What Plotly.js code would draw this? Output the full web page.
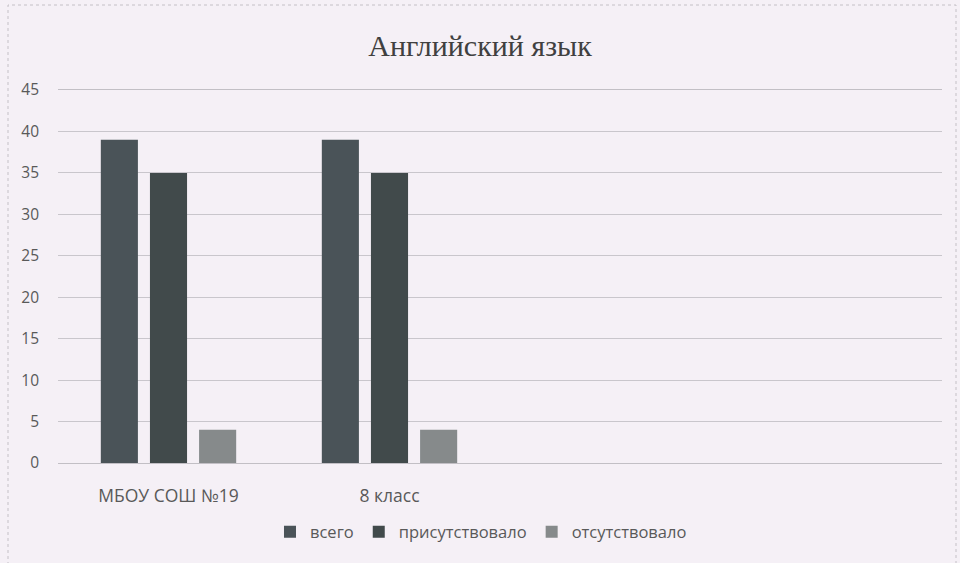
<!DOCTYPE html>
<html>
<head>
<meta charset="utf-8">
<script src="https://cdn.plot.ly/plotly-3.0.1.min.js"></script>
<style>html,body{margin:0;padding:0;background:#f5f0f6;}</style>
</head>
<body>
<div id="chart" style="width:960px;height:563px;"></div>
<script>
const categories = ["МБОУ СОШ №19", "8 класс"];
const seriesNames = ["всего", "присутствовало", "отсутствовало"];
const vsego = [39, 39];
const prisutstvovalo = [35, 35];
const otsutstvovalo = [4, 4];
const yTicks = [0, 5, 10, 15, 20, 25, 30, 35, 40, 45];

const colors = ["#4a5358", "#414a4b", "#868a8b"];
const values = [vsego, prisutstvovalo, otsutstvovalo];

const traces = values.map((v, i) => ({
  type: "bar",
  name: seriesNames[i],
  x: categories,
  y: v,
  marker: {color: colors[i]},
  hoverinfo: "y"
}));

const sans = "Open Sans, Noto Sans, sans-serif";

const layout = {
  width: 960,
  height: 563,
  paper_bgcolor: "#f5f0f6",
  plot_bgcolor: "#f5f0f6",
  margin: {l: 58, r: 18, t: 90, b: 100},
  title: {
    text: "Английский язык",
    x: 0.5, xanchor: "center",
    y: 1 - 45/563, yanchor: "middle",
    font: {family: "Liberation Serif, Times New Roman, serif", size: 30, color: "#404040"}
  },
  barmode: "group",
  bargap: 0.333,
  bargroupgap: 0.245,
  xaxis: {
    type: "category",
    range: [-0.5, 3.5],
    showgrid: false,
    zeroline: false,
    showline: true,
    mirror: true,
    linecolor: "#c2bfc5",
    linewidth: 1,
    ticks: "",
    ticklabelstandoff: 17,
    tickfont: {family: sans, size: 17.5, color: "#595959"}
  },
  yaxis: {
    range: [0, 45],
    tickvals: yTicks,
    showgrid: true,
    gridcolor: "#c9c6cc",
    gridwidth: 1,
    zeroline: true,
    zerolinecolor: "#c2bfc5",
    zerolinewidth: 1,
    showline: false,
    ticks: "",
    ticklabelstandoff: 18,
    tickfont: {family: sans, size: 15.5, color: "#595959"}
  },
  legend: {
    orientation: "h",
    x: 0.4785, xanchor: "center",
    y: (463 - 532) / 373, yanchor: "middle",
    font: {family: sans, size: 16.5, color: "#595959"},
    itemwidth: 30,
    bgcolor: "rgba(0,0,0,0)"
  },
  shapes: [{
    type: "rect", xref: "paper", yref: "paper",
    x0: (8 - 58) / 884, x1: (956 - 58) / 884,
    y0: (463 - 570) / 373, y1: (463 - 5) / 373,
    line: {color: "#c4c0c6", width: 1, dash: "dot"},
    fillcolor: "rgba(0,0,0,0)",
    layer: "below"
  }],
  showlegend: true
};

Plotly.newPlot("chart", traces, layout, {displayModeBar: false, staticPlot: true});
</script>
</body>
</html>
